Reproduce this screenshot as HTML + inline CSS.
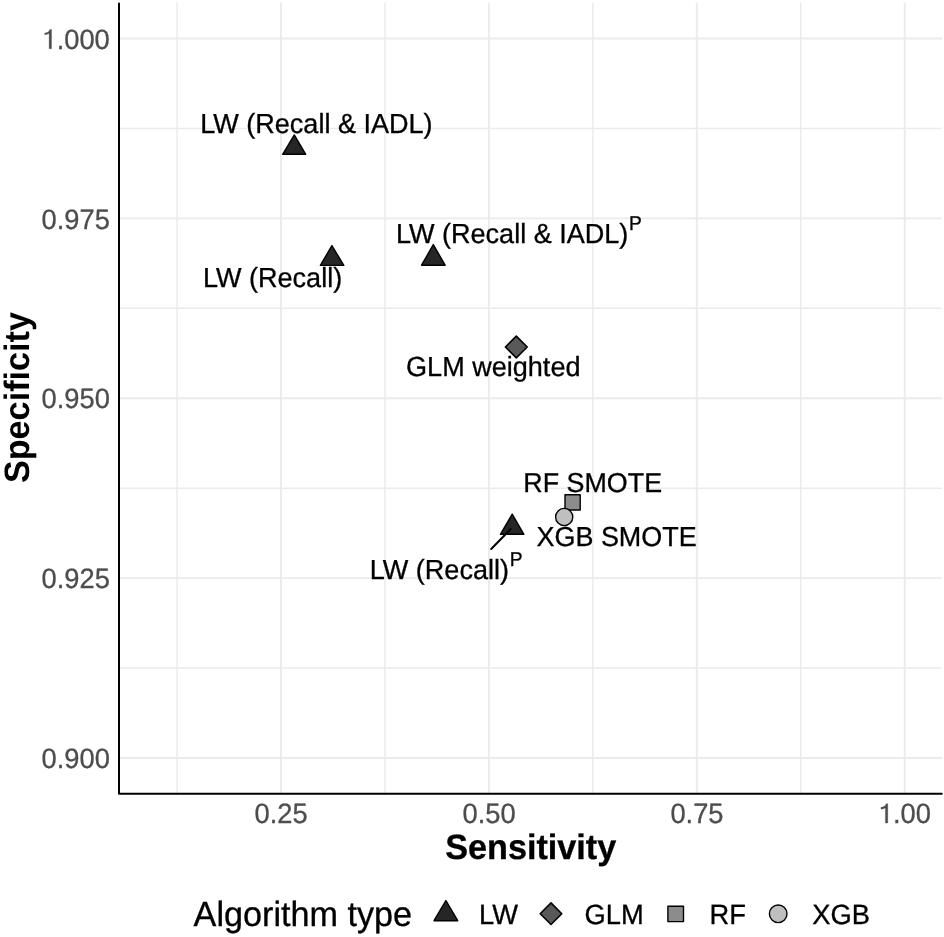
<!DOCTYPE html>
<html><head><meta charset="utf-8"><style>
html,body{margin:0;padding:0;background:#fff;}
body{width:944px;height:937px;overflow:hidden;}
svg{display:block;will-change:transform;font-family:"Liberation Sans",sans-serif;text-rendering:geometricPrecision;}
</style></head><body>
<svg width="944" height="937" viewBox="0 0 944 937">
<rect width="944" height="937" fill="#fff"/>
<line x1="119" x2="942" y1="128.4" y2="128.4" stroke="#ebebeb" stroke-width="1.5"/>
<line x1="119" x2="942" y1="308.3" y2="308.3" stroke="#ebebeb" stroke-width="1.5"/>
<line x1="119" x2="942" y1="488.2" y2="488.2" stroke="#ebebeb" stroke-width="1.5"/>
<line x1="119" x2="942" y1="668.1" y2="668.1" stroke="#ebebeb" stroke-width="1.5"/>
<line x1="177.05" x2="177.05" y1="2.6" y2="794" stroke="#ebebeb" stroke-width="1.5"/>
<line x1="384.95" x2="384.95" y1="2.6" y2="794" stroke="#ebebeb" stroke-width="1.5"/>
<line x1="592.85" x2="592.85" y1="2.6" y2="794" stroke="#ebebeb" stroke-width="1.5"/>
<line x1="800.75" x2="800.75" y1="2.6" y2="794" stroke="#ebebeb" stroke-width="1.5"/>
<line x1="119" x2="942" y1="38.5" y2="38.5" stroke="#ebebeb" stroke-width="1.9"/>
<line x1="119" x2="942" y1="218.4" y2="218.4" stroke="#ebebeb" stroke-width="1.9"/>
<line x1="119" x2="942" y1="398.25" y2="398.25" stroke="#ebebeb" stroke-width="1.9"/>
<line x1="119" x2="942" y1="578.1" y2="578.1" stroke="#ebebeb" stroke-width="1.9"/>
<line x1="119" x2="942" y1="758.0" y2="758.0" stroke="#ebebeb" stroke-width="1.9"/>
<line x1="281.0" x2="281.0" y1="2.6" y2="794" stroke="#ebebeb" stroke-width="1.9"/>
<line x1="488.9" x2="488.9" y1="2.6" y2="794" stroke="#ebebeb" stroke-width="1.9"/>
<line x1="696.8" x2="696.8" y1="2.6" y2="794" stroke="#ebebeb" stroke-width="1.9"/>
<line x1="904.7" x2="904.7" y1="2.6" y2="794" stroke="#ebebeb" stroke-width="1.9"/>
<polyline points="119,3.6 119,793.8 941.8,793.8" fill="none" stroke="#000" stroke-width="2" stroke-linejoin="round" stroke-linecap="round"/>
<path d="M572,0 L752,0 L752,-1409 L627,-1409 Q590,-1270 460,-1200 Q360,-1150 240,-1145 L240,-1015 Q440,-1030 572,-1105 Z" transform="translate(41.50 48.70) scale(0.01333 0.01366)" fill="#4d4d4d" stroke="#4d4d4d" stroke-width="22.51"/>
<text x="56.68" y="0" transform="translate(0 48.70) scale(1 1.025)" font-size="27.3" font-weight="normal" fill="#4d4d4d" stroke="#4d4d4d" stroke-width="0.3" >.000</text>
<text x="41.58" y="0" transform="translate(0 228.60) scale(1 1.025)" font-size="27.3" font-weight="normal" fill="#4d4d4d" stroke="#4d4d4d" stroke-width="0.3" >0.975</text>
<text x="41.50" y="0" transform="translate(0 408.45) scale(1 1.025)" font-size="27.3" font-weight="normal" fill="#4d4d4d" stroke="#4d4d4d" stroke-width="0.3" >0.950</text>
<text x="41.58" y="0" transform="translate(0 588.30) scale(1 1.025)" font-size="27.3" font-weight="normal" fill="#4d4d4d" stroke="#4d4d4d" stroke-width="0.3" >0.925</text>
<text x="41.50" y="0" transform="translate(0 768.20) scale(1 1.025)" font-size="27.3" font-weight="normal" fill="#4d4d4d" stroke="#4d4d4d" stroke-width="0.3" >0.900</text>
<text x="254.62" y="0" transform="translate(0 823.00) scale(1 1.025)" font-size="27.3" font-weight="normal" fill="#4d4d4d" stroke="#4d4d4d" stroke-width="0.3" >0.25</text>
<text x="462.48" y="0" transform="translate(0 823.00) scale(1 1.025)" font-size="27.3" font-weight="normal" fill="#4d4d4d" stroke="#4d4d4d" stroke-width="0.3" >0.50</text>
<text x="670.42" y="0" transform="translate(0 823.00) scale(1 1.025)" font-size="27.3" font-weight="normal" fill="#4d4d4d" stroke="#4d4d4d" stroke-width="0.3" >0.75</text>
<path d="M572,0 L752,0 L752,-1409 L627,-1409 Q590,-1270 460,-1200 Q360,-1150 240,-1145 L240,-1015 Q440,-1030 572,-1105 Z" transform="translate(877.78 823.00) scale(0.01333 0.01366)" fill="#4d4d4d" stroke="#4d4d4d" stroke-width="22.51"/>
<text x="892.96" y="0" transform="translate(0 823.00) scale(1 1.025)" font-size="27.3" font-weight="normal" fill="#4d4d4d" stroke="#4d4d4d" stroke-width="0.3" >.00</text>
<text x="445.26" y="0" transform="translate(0 858.90) scale(1 1.03)" font-size="34.2" font-weight="bold" fill="#000" stroke="#000" stroke-width="0.3" >Sensitivity</text>
<text transform="translate(28.9 483.08525390625005) rotate(-90) scale(1 1.03)" x="0" y="0" font-size="34.2" font-weight="bold" fill="#000">Specificity</text>
<polygon points="294.30,134.90 282.70,154.30 305.70,154.30" fill="#262626" stroke="#000" stroke-width="1.4" stroke-linejoin="round"/>
<polygon points="331.90,245.50 320.40,265.40 343.80,265.40" fill="#262626" stroke="#000" stroke-width="1.4" stroke-linejoin="round"/>
<polygon points="433.30,244.60 421.60,265.20 445.10,265.20" fill="#262626" stroke="#000" stroke-width="1.4" stroke-linejoin="round"/>
<polygon points="516.3,336.1 527.1999999999999,347 516.3,357.9 505.4,347" fill="#595959" stroke="#000" stroke-width="1.6" stroke-linejoin="round"/>
<rect x="565.0" y="494.7" width="15.200000000000022" height="15.299999999999988" fill="#8c8c8c" stroke="#000" stroke-width="1.4" stroke-linejoin="round"/>
<polygon points="512.20,514.20 500.40,534.30 523.90,534.30" fill="#262626" stroke="#000" stroke-width="1.4" stroke-linejoin="round"/>
<circle cx="564.2" cy="517" r="8.600000000000001" fill="#bfbfbf" stroke="#000" stroke-width="1.4"/>
<line x1="491.2" y1="549" x2="510.7" y2="529" stroke="#000" stroke-width="2" stroke-linecap="round"/>
<text x="200.18" y="0" transform="translate(0 133.00) scale(1 1.02)" font-size="27.05" font-weight="normal" fill="#000" stroke="#000" stroke-width="0.3" >LW (Recall &amp; IADL)</text>
<text x="202.93" y="0" transform="translate(0 287.40) scale(1 1.02)" font-size="27.05" font-weight="normal" fill="#000" stroke="#000" stroke-width="0.3" >LW (Recall)</text>
<text x="395.93" y="0" transform="translate(0 243.40) scale(1 1.02)" font-size="27.05" font-weight="normal" fill="#000" stroke="#000" stroke-width="0.3" >LW (Recall &amp; IADL)</text>
<text x="628.97" y="0" transform="translate(0 229.90) scale(1 1.05)" font-size="19.2" font-weight="normal" fill="#000" stroke="#000" stroke-width="0.3" >P</text>
<text x="406.09" y="0" transform="translate(0 376.00) scale(1 1.02)" font-size="27.05" font-weight="normal" fill="#000" stroke="#000" stroke-width="0.3" >GLM weighted</text>
<text x="523.35" y="0" transform="translate(0 491.90) scale(1 1.02)" font-size="26.85" font-weight="normal" fill="#000" stroke="#000" stroke-width="0.3" >RF SMOTE</text>
<text x="536.54" y="0" transform="translate(0 545.90) scale(1 1.02)" font-size="26.95" font-weight="normal" fill="#000" stroke="#000" stroke-width="0.3" >XGB SMOTE</text>
<text x="369.73" y="0" transform="translate(0 578.90) scale(1 1.02)" font-size="27.05" font-weight="normal" fill="#000" stroke="#000" stroke-width="0.3" >LW (Recall)</text>
<text x="509.77" y="0" transform="translate(0 565.60) scale(1 1.05)" font-size="19.2" font-weight="normal" fill="#000" stroke="#000" stroke-width="0.3" >P</text>
<text x="193.58" y="0" transform="translate(0 926.00) scale(1 1.02)" font-size="34.2" font-weight="normal" fill="#000" stroke="#000" stroke-width="0.3" >Algorithm type</text>
<polygon points="445.90,900.50 434.00,920.70 457.70,920.70" fill="#262626" stroke="#000" stroke-width="1.4" stroke-linejoin="round"/>
<text x="479.01" y="0" transform="translate(0 923.60) scale(1 1.02)" font-size="27.3" font-weight="normal" fill="#000" stroke="#000" stroke-width="0.3" >LW</text>
<polygon points="551,902.9000000000001 561.8,913.7 551,924.5 540.2,913.7" fill="#595959" stroke="#000" stroke-width="1.6" stroke-linejoin="round"/>
<text x="584.58" y="0" transform="translate(0 923.80) scale(1 1.02)" font-size="27.3" font-weight="normal" fill="#000" stroke="#000" stroke-width="0.3" >GLM</text>
<rect x="667.9000000000001" y="906.3000000000001" width="15.6" height="15.299999999999931" fill="#8c8c8c" stroke="#000" stroke-width="1.4" stroke-linejoin="round"/>
<text x="709.61" y="0" transform="translate(0 923.80) scale(1 1.02)" font-size="27.3" font-weight="normal" fill="#000" stroke="#000" stroke-width="0.3" >RF</text>
<circle cx="778.2" cy="913.8" r="8.8" fill="#bfbfbf" stroke="#000" stroke-width="1.4"/>
<text x="812.34" y="0" transform="translate(0 923.60) scale(1 1.02)" font-size="27.3" font-weight="normal" fill="#000" stroke="#000" stroke-width="0.3" >XGB</text>
</svg>
</body></html>
